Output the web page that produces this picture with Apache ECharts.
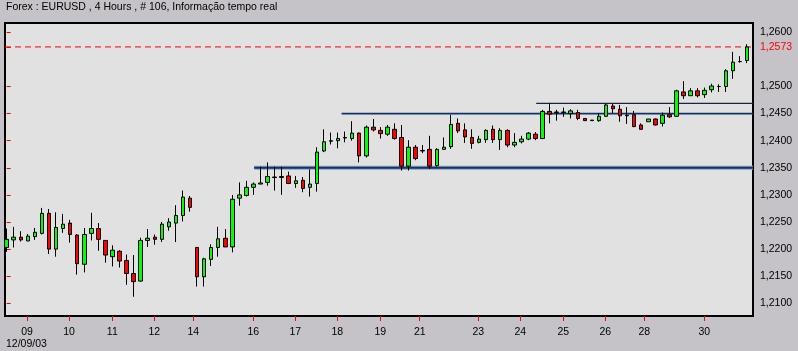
<!DOCTYPE html>
<html>
<head>
<meta charset="utf-8">
<script src="https://cdn.jsdelivr.net/npm/echarts@6/dist/echarts.min.js"></script>
<style>
html,body{margin:0;padding:0;background:#c5c3c7;}
#chart{width:798px;height:351px;}
</style>
</head>
<body>
<div id="chart"></div>
<script>
// ---- data (EURUSD 4H, 106 candles) ----
const opens = [1.2203,1.2217,1.2222,1.2215,1.2223,1.2229,1.2266,1.2200,1.2238,1.2248,
1.2226,1.2172,1.2229,1.2238,1.2216,1.2186,1.2196,1.2179,1.2155,1.2141,
1.2216,1.2222,1.2218,1.2241,1.2248,1.2262,1.2294,1.2203,1.2149,1.2181,
1.2203,1.2220,1.2204,1.2294,1.2299,1.2314,1.2320,1.2323,1.2333,1.2332,
1.2335,1.2321,1.2327,1.2314,1.2321,1.2381,1.2399,1.2400,1.2405,1.2404,
1.2414,1.2372,1.2425,1.2419,1.2412,1.2421,1.2406,1.2353,1.2388,1.2381,
1.2384,1.2354,1.2384,1.2389,1.2432,1.2420,1.2406,1.2397,1.2402,1.2421,
1.2402,1.2419,1.2392,1.2398,1.2403,1.2412,1.2404,1.2454,1.2452,1.2452,
1.2450,1.2452,1.2441,1.2437,1.2437,1.2445,1.2464,1.2458,1.2446,1.2448,
1.2429,1.2435,1.2440,1.2432,1.2448,1.2445,1.2490,1.2483,1.2492,1.2485,
1.2494,1.2500,1.2500,1.2529,1.2546,1.2548];
const closes = [1.2218,1.2222,1.2217,1.2224,1.2231,1.2266,1.2200,1.2240,1.2246,1.2227,
1.2173,1.2227,1.2238,1.2218,1.2189,1.2198,1.2178,1.2155,1.2140,1.2216,
1.2220,1.2218,1.2246,1.2250,1.2262,1.2296,1.2277,1.2149,1.2182,1.2203,
1.2219,1.2204,1.2292,1.2300,1.2314,1.2320,1.2322,1.2334,1.2332,1.2334,
1.2321,1.2326,1.2312,1.2320,1.2379,1.2398,1.2400,1.2404,1.2406,1.2414,
1.2372,1.2425,1.2420,1.2413,1.2425,1.2404,1.2353,1.2388,1.2367,1.2382,
1.2353,1.2384,1.2388,1.2430,1.2418,1.2407,1.2395,1.2403,1.2419,1.2402,
1.2419,1.2392,1.2397,1.2403,1.2414,1.2404,1.2454,1.2449,1.2453,1.2453,
1.2455,1.2441,1.2437,1.2438,1.2445,1.2466,1.2459,1.2446,1.2447,1.2426,
1.2421,1.2440,1.2429,1.2447,1.2444,1.2492,1.2483,1.2492,1.2483,1.2493,
1.2501,1.2500,1.2529,1.2545,1.2546,1.2573];
const lows = [1.2195,1.2203,1.2214,1.2215,1.2217,1.2227,1.2191,1.2186,1.2230,1.2212,
1.2153,1.2157,1.2216,1.2197,1.2175,1.2168,1.2166,1.2134,1.2112,1.2140,
1.2204,1.2208,1.2213,1.2234,1.2213,1.2251,1.2269,1.2131,1.2131,1.2169,
1.2186,1.2204,1.2194,1.2280,1.2297,1.2300,1.2320,1.2317,1.2308,1.2300,
1.2320,1.2313,1.2305,1.2297,1.2306,1.2379,1.2393,1.2386,1.2397,1.2400,
1.2360,1.2369,1.2417,1.2404,1.2409,1.2402,1.2345,1.2345,1.2364,1.2377,
1.2348,1.2352,1.2383,1.2385,1.2414,1.2396,1.2385,1.2395,1.2396,1.2396,
1.2383,1.2388,1.2388,1.2395,1.2401,1.2401,1.2403,1.2432,1.2437,1.2444,
1.2441,1.2438,1.2437,1.2437,1.2435,1.2444,1.2451,1.2435,1.2431,1.2425,
1.2420,1.2435,1.2428,1.2426,1.2442,1.2444,1.2477,1.2483,1.2480,1.2479,
1.2489,1.2490,1.2490,1.2514,1.2544,1.2543];
const highs = [1.2238,1.2241,1.2233,1.2228,1.2239,1.2276,1.2274,1.2268,1.2265,1.2254,
1.2228,1.2239,1.2267,1.2248,1.2216,1.2207,1.2198,1.2190,1.2189,1.2221,
1.2237,1.2227,1.2250,1.2257,1.2281,1.2308,1.2298,1.2204,1.2184,1.2209,
1.2241,1.2237,1.2300,1.2323,1.2326,1.2323,1.2352,1.2360,1.2352,1.2352,
1.2343,1.2335,1.2333,1.2347,1.2388,1.2421,1.2415,1.2415,1.2417,1.2436,
1.2415,1.2428,1.2440,1.2425,1.2429,1.2432,1.2429,1.2401,1.2392,1.2392,
1.2409,1.2386,1.2406,1.2448,1.2441,1.2432,1.2421,1.2409,1.2421,1.2428,
1.2423,1.2421,1.2414,1.2409,1.2416,1.2416,1.2457,1.2469,1.2457,1.2461,
1.2458,1.2457,1.2441,1.2438,1.2451,1.2468,1.2468,1.2466,1.2462,1.2455,
1.2432,1.2440,1.2441,1.2452,1.2462,1.2494,1.2510,1.2497,1.2497,1.2498,
1.2505,1.2504,1.2532,1.2564,1.2556,1.2578];

// day labels and the candle index (position) where each tick sits
const dayLabels = ['09','10','11','12','14','16','17','18','19','21','23','24','25','26','28','30'];
const dayTicks  = [2.88,8.84,14.98,20.94,26.47,34.98,40.94,46.89,52.99,58.58,66.89,72.85,78.95,84.91,90.44,98.95];

// price axis labels
const priceTicks = [1.2100,1.2150,1.2200,1.2250,1.2300,1.2350,1.2400,1.2450,1.2500,1.2573,1.2600];
const lastPrice = 1.2573;

// horizontal levels: [price, start candle index]
const levelTop = [1.2469, 75.1];
const levelMid = [1.2450, 47.5];
const levelLow = [1.2350, 35.1];

const titleText = 'Forex : EURUSD , 4 Hours , # 106, Informação tempo real';
const dateText = '12/09/03';

// ---- chart ----
const candles = opens.map((o, i) => [i, o, closes[i], lows[i], highs[i]]);
const xMin = -0.241, xMax = 105.851;
const font = 'Liberation Sans';

function hLine(level, startIdx, color, width, type, z) {
  return {
    type: 'line', data: [[startIdx, level], [xMax, level]],
    symbol: 'none', silent: true, z: z || 3, clip: true,
    lineStyle: {color: color, width: width, type: type || 'solid'}
  };
}

const chart = echarts.init(document.getElementById('chart'), null, {renderer: 'canvas'});
chart.setOption({
  animation: false,
  backgroundColor: '#c5c3c7',
  title: [
    {text: titleText, left: 6, top: 2, padding: 0, textStyle: {fontFamily: font, fontSize: 10.5, fontWeight: 'normal', color: '#000'}},
    {text: dateText, left: 6, top: 339, padding: 0, textStyle: {fontFamily: font, fontSize: 10.5, fontWeight: 'normal', color: '#000'}}
  ],
  grid: {left: 5, top: 23, right: 45, bottom: 35, show: true, backgroundColor: '#e1e1e1', borderColor: '#000', borderWidth: 2},
  xAxis: {
    type: 'value', min: xMin, max: xMax,
    axisLine: {show: false},
    splitLine: {show: false},
    axisTick: {show: true, customValues: dayTicks, length: 5, lineStyle: {color: '#ff0000', width: 1}},
    axisLabel: {
      customValues: dayTicks, margin: 11, color: '#000', fontFamily: font, fontSize: 10.5,
      formatter: function (v) {
        let best = 0, d = 1e9;
        dayTicks.forEach((t, i) => { if (Math.abs(t - v) < d) { d = Math.abs(t - v); best = i; } });
        return dayLabels[best];
      }
    }
  },
  yAxis: {
    type: 'value', position: 'right', min: 1.207657, max: 1.261716, scale: true,
    axisLine: {show: false},
    splitLine: {show: false},
    axisTick: {show: true, customValues: priceTicks, length: 4, lineStyle: {color: '#ff0000', width: 1}},
    axisLabel: {
      customValues: priceTicks, margin: 7, fontFamily: font, fontSize: 10.5,
      color: function (v) { return Math.abs(v - lastPrice) < 1e-6 ? '#ff0000' : '#000'; },
      formatter: function (v) { return v.toFixed(4).replace('.', ','); }
    }
  },
  series: [
    hLine(lastPrice, xMin, '#ff0000', 1, [6, 4], 1),
    hLine(levelTop[0], levelTop[1], '#1a2440', 1.2, 'solid', 1),
    hLine(levelMid[0], levelMid[1], '#0c3470', 1.6, 'solid', 1),
    hLine(levelLow[0], levelLow[1], '#8aa0c2', 4, 'solid', 1),
    hLine(levelLow[0], levelLow[1], '#12336a', 2, 'solid', 1),
    {
      type: 'candlestick',
      data: candles,
      z: 5,
      dimensions: ['idx', 'open', 'close', 'lowest', 'highest'],
      encode: {x: 'idx', y: ['open', 'close', 'lowest', 'highest']},
      barWidth: 4,
      itemStyle: {color: '#00ff00', color0: '#ff0000', borderColor: '#000', borderColor0: '#000', borderColorDoji: '#000', borderWidth: 1}
    }
  ]
});
</script>
</body>
</html>
